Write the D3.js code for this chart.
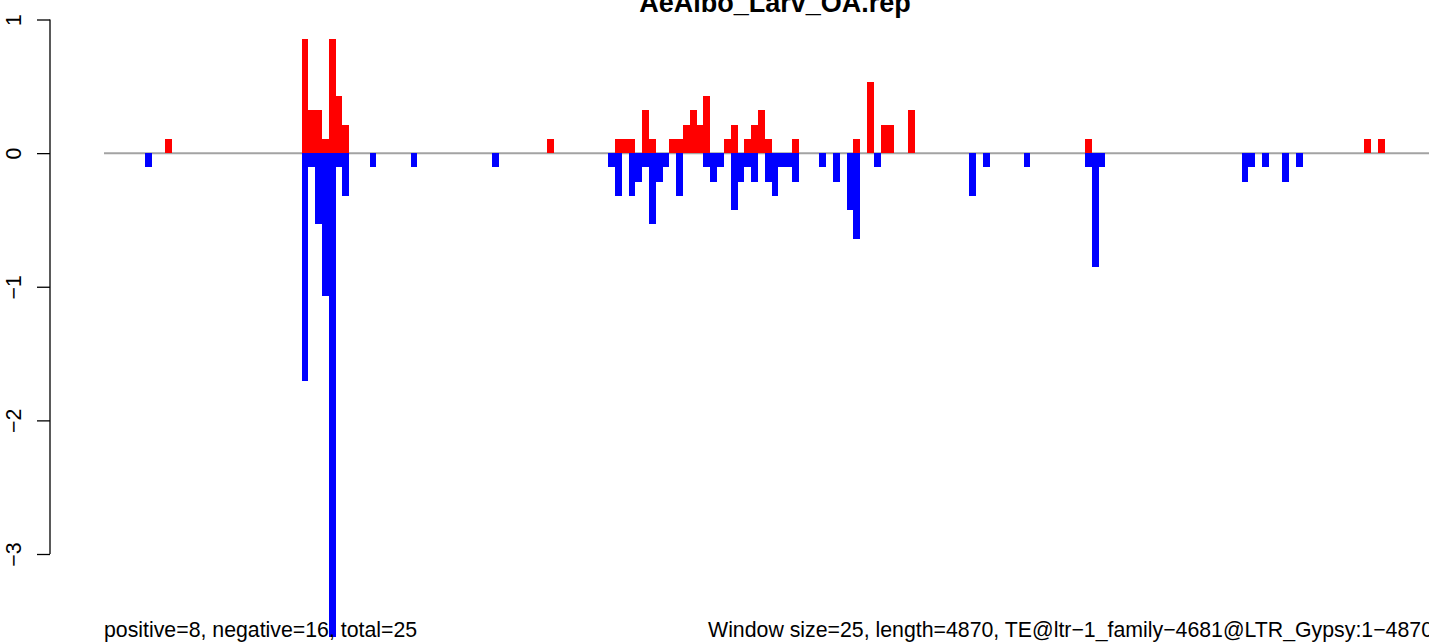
<!DOCTYPE html>
<html>
<head>
<meta charset="utf-8">
<script src="https://cdn.jsdelivr.net/npm/d3@7"></script>
<style>
  body { margin: 0; background: #fff; }
  text { font-family: 'Liberation Sans', Arial, sans-serif; }
</style>
</head>
<body>
<div id="chart"></div>
<script>
// window starts (bp) and values for windows above zero
const posStart = [225, 725, 750, 775, 800, 825, 850, 875, 1625, 1875, 1900, 1925, 1975, 2000,
  2075, 2100, 2125, 2150, 2175, 2200, 2275, 2300, 2350, 2375, 2400, 2425, 2525, 2750, 2800,
  2850, 2875, 2950, 3600, 4625, 4675];
const posValue = [0.107, 0.853, 0.32, 0.32, 0.107, 0.853, 0.426, 0.213, 0.107, 0.107, 0.107,
  0.107, 0.32, 0.107, 0.107, 0.107, 0.213, 0.32, 0.213, 0.426, 0.107, 0.213, 0.107, 0.213,
  0.32, 0.107, 0.107, 0.107, 0.533, 0.213, 0.213, 0.32, 0.107, 0.107, 0.107];

// window starts (bp) and values for windows below zero
const negStart = [150, 725, 750, 775, 800, 825, 850, 875, 975, 1125, 1425, 1850, 1875, 1925,
  1950, 1975, 2000, 2025, 2050, 2100, 2200, 2225, 2250, 2300, 2325, 2350, 2375, 2425, 2450,
  2475, 2500, 2525, 2625, 2675, 2725, 2750, 2825, 3175, 3225, 3375, 3600, 3625, 3650, 4175,
  4200, 4250, 4325, 4375];
const negValue = [-0.107, -1.706, -0.107, -0.533, -1.066, -3.624, -0.107, -0.32, -0.107,
  -0.107, -0.107, -0.107, -0.32, -0.32, -0.213, -0.107, -0.533, -0.213, -0.107, -0.32, -0.107,
  -0.213, -0.107, -0.426, -0.213, -0.107, -0.213, -0.213, -0.32, -0.107, -0.107, -0.213,
  -0.107, -0.213, -0.426, -0.64, -0.107, -0.32, -0.107, -0.107, -0.107, -0.853, -0.107,
  -0.213, -0.107, -0.107, -0.213, -0.107];

const yTicks = [1, 0, -1, -2, -3];
const windowSize = 25;
const seqLength = 4870;

const title = 'AeAlbo_Larv_OA.rep';
const leftNote = 'positive=8, negative=16, total=25';
const rightNote = 'Window size=25, length=4870, TE@ltr\u22121_family\u22124681@LTR_Gypsy:1\u22124870';

const size = { width: 1429, height: 643 };

const svg = d3
  .select('#chart')
  .append('svg')
  .attr('width', size.width)
  .attr('height', size.height);

const x = d3
  .scaleLinear()
  .domain([0, seqLength])
  .range([104, 104 + (seqLength / windowSize) * 6.812]);

const y = d3.scaleLinear().domain([-3, 1]).range([554, 19.5]);

// zero line
svg
  .append('line')
  .attr('x1', x(0))
  .attr('x2', x(seqLength))
  .attr('y1', y(0))
  .attr('y2', y(0))
  .attr('stroke', '#a3a3a3')
  .attr('stroke-width', 2);

const bars = (starts, values, color) => {
  svg
    .append('g')
    .selectAll('rect')
    .data(starts.map((s, i) => ({ start: s, val: values[i] })))
    .join('rect')
    .attr('x', (d) => x(d.start))
    .attr('width', (d) => x(d.start + windowSize) - x(d.start))
    .attr('y', (d) => y(Math.max(0, d.val)))
    .attr('height', (d) => Math.abs(y(d.val) - y(0)))
    .attr('fill', color)
    .attr('shape-rendering', 'crispEdges');
};

bars(posStart, posValue, '#ff0000');
bars(negStart, negValue, '#0000ff');

// y axis, R style
const axis = svg
  .append('g')
  .attr('transform', 'translate(50,0)')
  .call(
    d3
      .axisLeft(y)
      .tickValues(yTicks)
      .tickSize(13)
      .tickPadding(0)
      .tickFormat((d) => (d < 0 ? '\u2212' + Math.abs(d) : String(d))),
  );
axis.select('.domain').attr('stroke', '#000').attr('stroke-width', 1.3).attr('d', `M0,${y(1)}V${y(-3)}`);
axis.selectAll('.tick line').attr('stroke', '#000').attr('stroke-width', 1.3);
axis
  .selectAll('.tick text')
  .attr('x', null)
  .attr('dy', null)
  .attr('text-anchor', 'middle')
  .attr('transform', 'translate(-29,0) rotate(-90)')
  .attr('font-size', '21.3px')
  .attr('font-family', "'Liberation Sans', Arial, sans-serif")
  .attr('fill', '#000');

svg
  .append('text')
  .attr('x', 775)
  .attr('y', 12)
  .attr('text-anchor', 'middle')
  .attr('font-weight', 'bold')
  .attr('font-size', '27px')
  .text(title);

svg
  .append('text')
  .attr('x', 104)
  .attr('y', 637)
  .attr('font-size', '21.3px')
  .text(leftNote);

svg
  .append('text')
  .attr('x', 1433)
  .attr('y', 637)
  .attr('text-anchor', 'end')
  .attr('font-size', '21.3px')
  .text(rightNote);
</script>
</body>
</html>
